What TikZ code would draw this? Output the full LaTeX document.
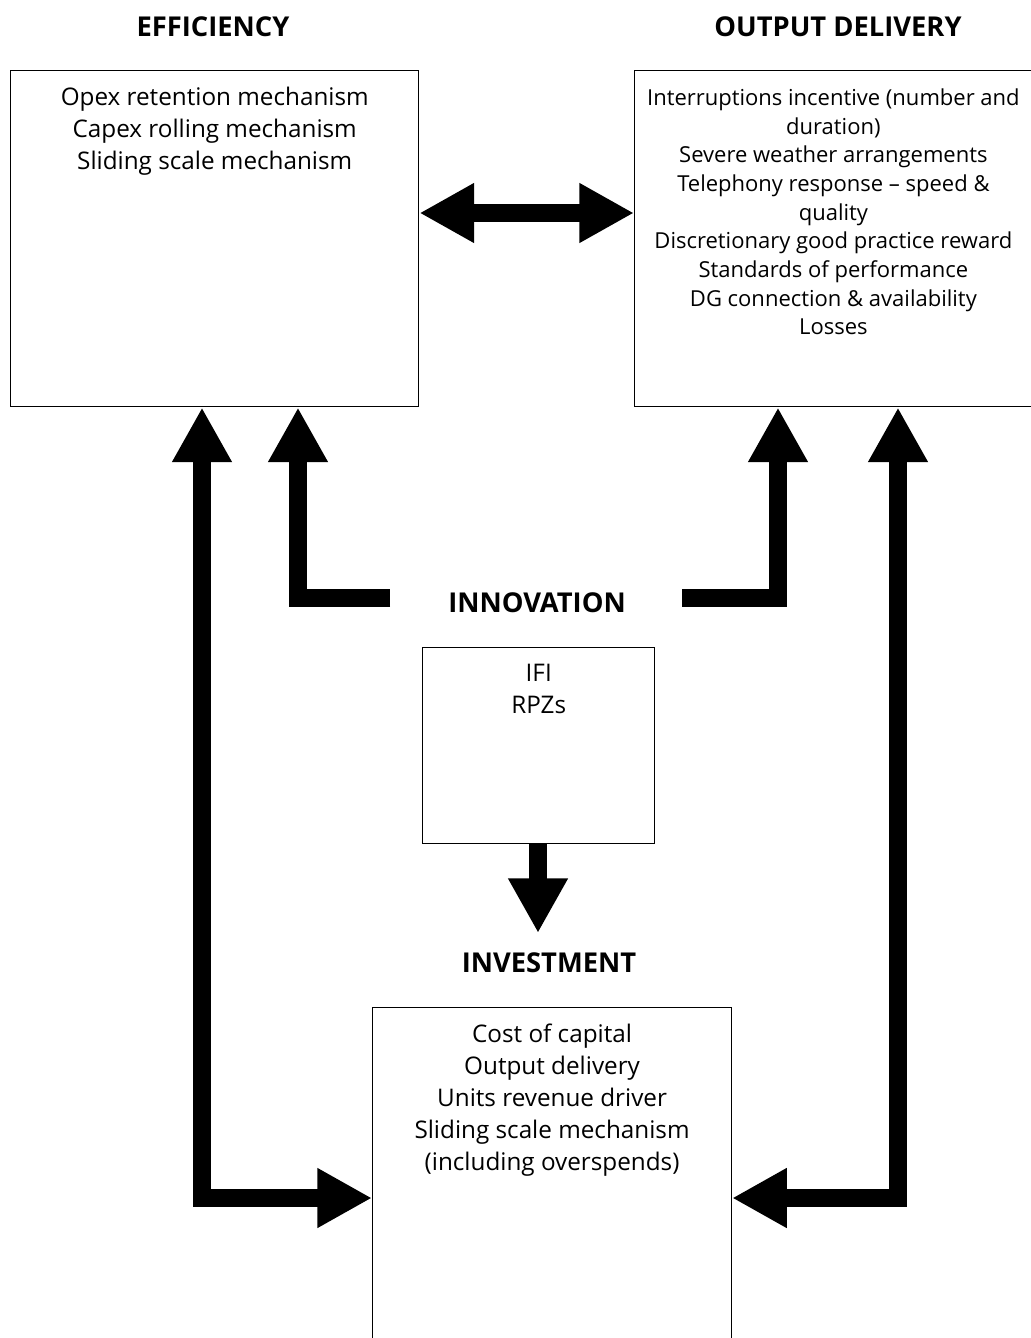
\documentclass[tikz,border=0pt]{standalone}
\usepackage{fontspec}
\setmainfont{Open Sans}
\usetikzlibrary{arrows.meta}

\begin{document}
\begin{tikzpicture}[x=0.75pt, y=-0.75pt,
    box/.style={draw, line width=1.1pt, inner sep=0pt, anchor=north west},
    boxtext/.style={anchor=north, align=center, inner sep=0pt,
        font=\fontsize{18.2}{24}\selectfont},
    heading/.style={inner sep=0pt, font=\fontsize{20.5}{22}\selectfont\bfseries},
    fat/.style={line width=14pt, line join=miter,
        -{Triangle[length=41pt, width=42pt]}},
    fatboth/.style={fat, {Triangle[length=41pt, width=42pt]}-{Triangle[length=41pt, width=42pt]}}]

\useasboundingbox (0,0) rectangle (1031,1338);

% headings
\node[heading] (effhead) at (213,27) {EFFICIENCY};
\node[heading] (outhead) at (838,27) {OUTPUT DELIVERY};
\node[heading] (innhead) at (537,603) {INNOVATION};
\node[heading] (invhead) at (549,963) {INVESTMENT};

% boxes
\node[box, minimum width=306pt, minimum height=252pt] (eff) at (10,70) {};
\node[box, minimum width=298pt, minimum height=252pt] (out) at (634,70) {};
\node[box, minimum width=174pt, minimum height=147pt] (ifi) at (422,647) {};
\node[box, minimum width=269pt, minimum height=256pt] (inv) at (372,1007) {};

% box texts
\node[boxtext] (efftext) at ([yshift=-12.5pt]eff.north) {Opex retention mechanism\\
    Capex rolling mechanism\\ Sliding scale mechanism};
\node[boxtext, font=\fontsize{16.5}{21.5}\selectfont] (outtext)
    at ([yshift=-14pt]out.north) {Interruptions incentive (number and\\ duration)\\
    Severe weather arrangements\\ Telephony response -- speed \&\\ quality\\
    Discretionary good practice reward\\ Standards of performance\\
    DG connection \& availability\\ Losses};
\node[boxtext] (ifitext) at ([yshift=-13pt]ifi.north) {IFI\\ RPZs};
\node[boxtext] (invtext) at ([yshift=-12.5pt]inv.north) {Cost of capital\\
    Output delivery\\ Units revenue driver\\ Sliding scale mechanism\\
    (including overspends)};

% turning points
\coordinate (mid) at (526,213);
\coordinate (lowleft) at (202,1198);
\coordinate (lowright) at (898,1198);
\coordinate (innleft) at (390,598);
\coordinate (innright) at (682,598);
\coordinate (upleft) at (298,598);
\coordinate (upright) at (778,598);
\coordinate (down) at (538,933);

% arrows
\draw[fatboth] (eff.east |- mid) -- (out.west |- mid);
\draw[fatboth] (inv.west |- lowleft) -| (eff.south -| lowleft);
\draw[fatboth] (inv.east |- lowright) -| (out.south -| lowright);
\draw[fat] (innleft) -| (eff.south -| upleft);
\draw[fat] (innright) -| (out.south -| upright);
\draw[fat] (ifi.south -| down) -- (down);

\end{tikzpicture}
\end{document}
